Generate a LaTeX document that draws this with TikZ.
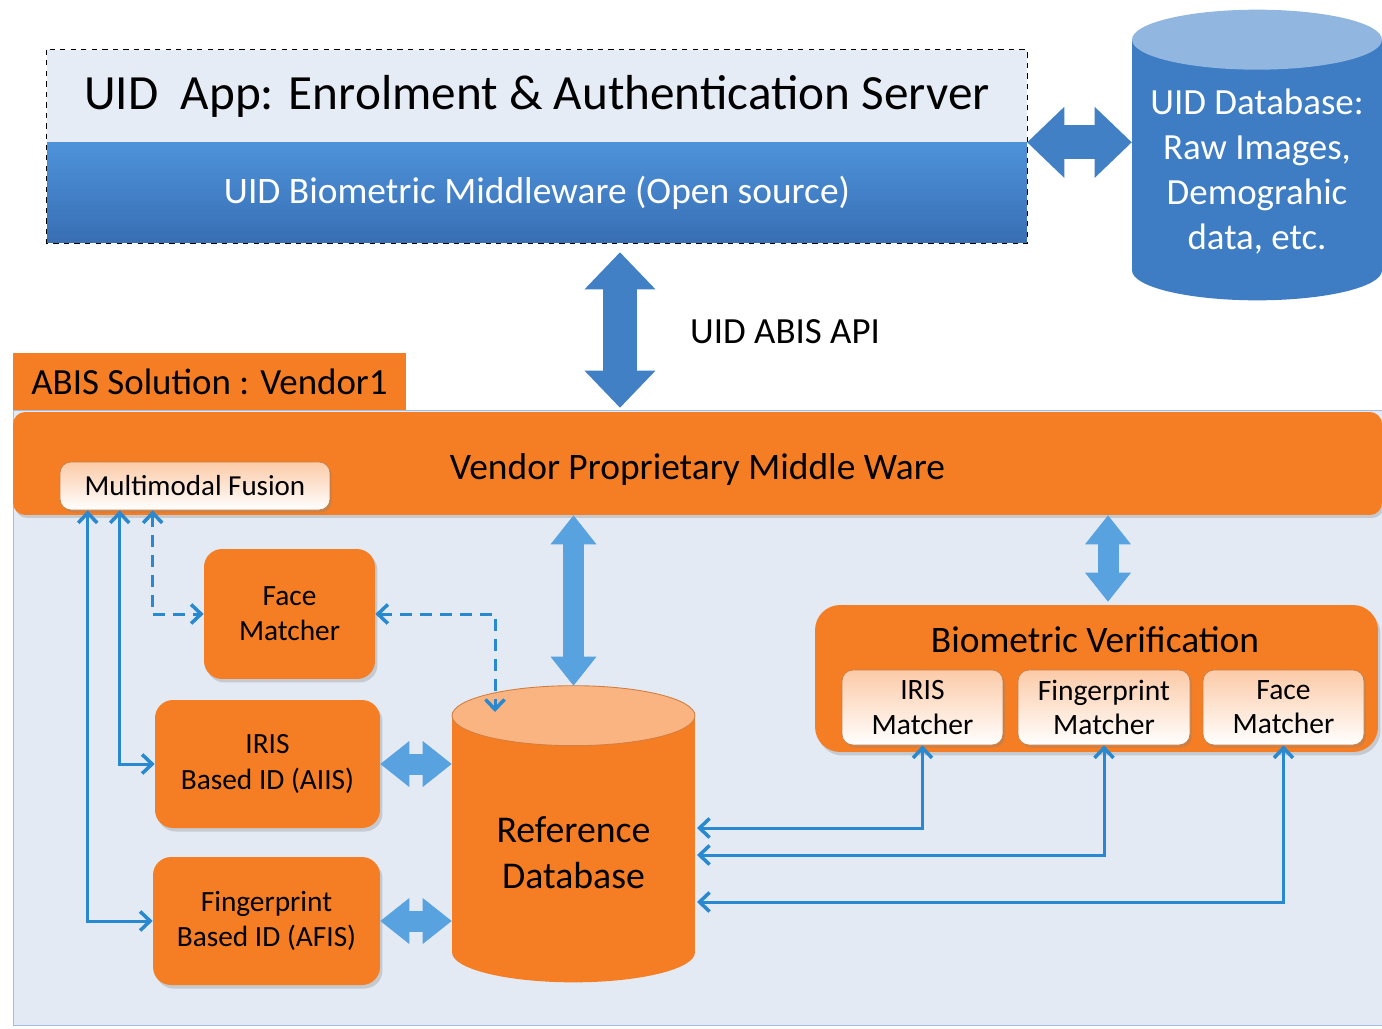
\documentclass[tikz,border=0pt]{standalone}
\usepackage{fontspec}
\setmainfont{Carlito}
\usepackage{tikz}
\usetikzlibrary{arrows.meta,shadows}

\definecolor{vorange}{RGB}{245,126,36}
\definecolor{vpeach}{RGB}{250,180,130}
\definecolor{uidblue}{RGB}{62,124,195}
\definecolor{uidlight}{RGB}{145,182,224}
\definecolor{apppanel}{RGB}{229,236,246}
\definecolor{mwtop}{RGB}{78,147,218}
\definecolor{mwbot}{RGB}{56,110,180}
\definecolor{abispanel}{RGB}{227,234,244}
\definecolor{abisline}{RGB}{160,190,226}
\definecolor{linkblue}{RGB}{40,136,208}
\definecolor{fatblue}{RGB}{66,128,198}
\definecolor{fatlight}{RGB}{88,162,224}

\begin{document}
\begin{tikzpicture}[x=0.02cm,y=-0.02cm]
\tikzset{obox/.style = {rectangle,rounded corners=0.36cm,fill=vorange,align=center,
  inner sep=0pt,font=\fontsize{16.7}{20}\selectfont,
  drop shadow={shadow xshift=0.05cm,shadow yshift=-0.07cm,opacity=0.3}}}
\tikzset{mbox/.style = {rectangle,rounded corners=0.22cm,draw=vorange!60!gray,
  top color=vpeach!70,bottom color=white,align=center,inner sep=0pt,
  font=\fontsize{16.8}{19.4}\selectfont,
  drop shadow={shadow xshift=0.04cm,shadow yshift=-0.05cm,opacity=0.3}}}
\tikzset{dbase/.style = {rectangle,inner sep=0pt}}
\tikzset{link/.style = {<->,>={Straight Barb[length=0.2cm,width=0.38cm,line width=0.07cm]},
  draw=linkblue,line width=0.06cm}}
\tikzset{dlink/.style = {link,dash pattern=on 0.24cm off 0.16cm}}
\tikzset{fat/.style = {draw=fatblue,line width=0.68cm,
  {Triangle[width=1.42cm,length=0.74cm,line width=0pt]}-{Triangle[width=1.42cm,length=0.74cm,line width=0pt]}}}
\tikzset{fatin/.style = {draw=fatlight,line width=0.42cm,
  {Triangle[width=0.92cm,length=0.58cm,line width=0pt]}-{Triangle[width=0.92cm,length=0.58cm,line width=0pt]}}}
\useasboundingbox (0,0) rectangle (1382,1028);
% server and database
\node[rectangle,fill=apppanel,minimum width=19.6cm,minimum height=1.84cm,
  font=\fontsize{28}{32}\selectfont] (app) at (537,96) {UID~ App: Enrolment \& Authentication Server};
\node[rectangle,top color=mwtop,bottom color=mwbot,minimum width=19.6cm,minimum height=2.02cm,
  text=white,font=\fontsize{21.3}{25}\selectfont] (mw) at (537,192.5) {UID Biometric Middleware (Open source)};
\draw[dashed,thin] (app.north west) rectangle (mw.south east);
\node[dbase,minimum width=5cm,minimum height=5.8cm] (uiddb) at (1257,155) {};
\fill[uidblue] ([yshift=-0.6cm]uiddb.north west) rectangle ([yshift=0.6cm]uiddb.south east);
\fill[uidblue] ([yshift=0.6cm]uiddb.south) ellipse [x radius=2.5cm,y radius=0.6cm];
\fill[uidlight] ([yshift=-0.6cm]uiddb.north) ellipse [x radius=2.5cm,y radius=0.6cm];
\node[text=white,align=center,font=\fontsize{21}{25.6}\selectfont] (uidtext) at (1257,172)
  {UID Database:\\Raw Images,\\Demograhic\\data, etc.};
\node[font=\fontsize{21}{25}\selectfont] (api) at (785,332) {UID ABIS API};
% vendor solution
\node[rectangle,fill=vorange,minimum width=7.86cm,minimum height=1.16cm,
  font=\fontsize{21}{25}\selectfont] (tab) at (209.5,382) {ABIS Solution : Vendor1};
\node[rectangle,fill=abispanel,draw=abisline,minimum width=27.38cm,minimum height=12.3cm] (abis) at (697.5,717.5) {};
\node[rectangle,rounded corners=0.24cm,fill=vorange,minimum width=27.38cm,minimum height=2.06cm,
  font=\fontsize{21.3}{25}\selectfont,text height=22.5pt,text depth=4.5pt,
  drop shadow={shadow xshift=0.04cm,shadow yshift=-0.06cm,opacity=0.3}] (vpm) at (697.5,463.5) {Vendor Proprietary Middle Ware};
\node[mbox,minimum width=5.4cm,minimum height=0.96cm,font=\fontsize{16.5}{19}\selectfont] (fusion) at (195,486) {Multimodal Fusion};
\node[obox,minimum width=3.42cm,minimum height=2.6cm] (facem) at (289.5,614) {Face\\Matcher};
\node[obox,minimum width=4.5cm,minimum height=2.56cm] (aiis) at (267.5,764) {IRIS\\Based ID (AIIS)};
\node[obox,minimum width=4.54cm,minimum height=2.56cm] (afis) at (266.5,921) {Fingerprint\\Based ID (AFIS)};
\node[dbase,minimum width=4.86cm,minimum height=5.92cm] (refdb) at (573.5,834) {};
\fill[vorange] ([yshift=-0.6cm]refdb.north west) rectangle ([yshift=0.6cm]refdb.south east);
\fill[vorange] ([yshift=0.6cm]refdb.south) ellipse [x radius=2.43cm,y radius=0.6cm];
\fill[vpeach,draw=vorange!70!gray,line width=0.5pt] ([yshift=-0.6cm]refdb.north) ellipse [x radius=2.43cm,y radius=0.6cm];
\node[align=center,font=\fontsize{21.5}{26.2}\selectfont] (reftext) at (573.5,853) {Reference\\Database};
\node[obox,rounded corners=0.5cm,minimum width=11.26cm,minimum height=2.94cm] (biover) at (1096.5,678.5) {};
\node[font=\fontsize{21.3}{25}\selectfont] (bvtitle) at (1095,640) {Biometric Verification};
\node[mbox,minimum width=3.22cm,minimum height=1.5cm] (irism) at (922.5,707.5) {IRIS\\Matcher};
\node[mbox,minimum width=3.44cm,minimum height=1.5cm] (fpm) at (1104,707.5) {Fingerprint\\Matcher};
\node[mbox,minimum width=3.22cm,minimum height=1.5cm] (facebv) at (1283.5,707.5) {Face\\Matcher};
\coordinate (dbtop) at (495,712);
\coordinate (rin1) at (697,828);
\coordinate (rin2) at (697,855);
\coordinate (rin3) at (697,902);
% fat arrows
\draw[fat] (app.south east) -- (app.south east -| uiddb.west);
\draw[fat,shorten <=0.18cm,shorten >=0.08cm] ([xshift=1.66cm]mw.south) -- ([xshift=1.66cm]mw.south |- vpm.north);
\draw[fatin] (refdb.north |- vpm.south) -- (refdb.north);
\draw[fatin,shorten >=0.06cm] ([xshift=0.23cm]biover.north |- vpm.south) -- ([xshift=0.23cm]biover.north);
\draw[fatin] (aiis.east) -- (aiis.east -| refdb.west);
\draw[fatin] (afis.east) -- (afis.east -| refdb.west);
% links
\draw[link] ([xshift=0.56cm]fusion.south west) |- (afis.west);
\draw[link] ([xshift=1.2cm]fusion.south west) |- (aiis.west);
\draw[dlink] ([xshift=1.86cm]fusion.south west) |- (facem.west);
\draw[dlink] (facem.east) -| (dbtop);
\draw[link] (irism.south) |- (rin1);
\draw[link] (fpm.south) |- (rin2);
\draw[link] (facebv.south) |- (rin3);
\end{tikzpicture}
\end{document}
